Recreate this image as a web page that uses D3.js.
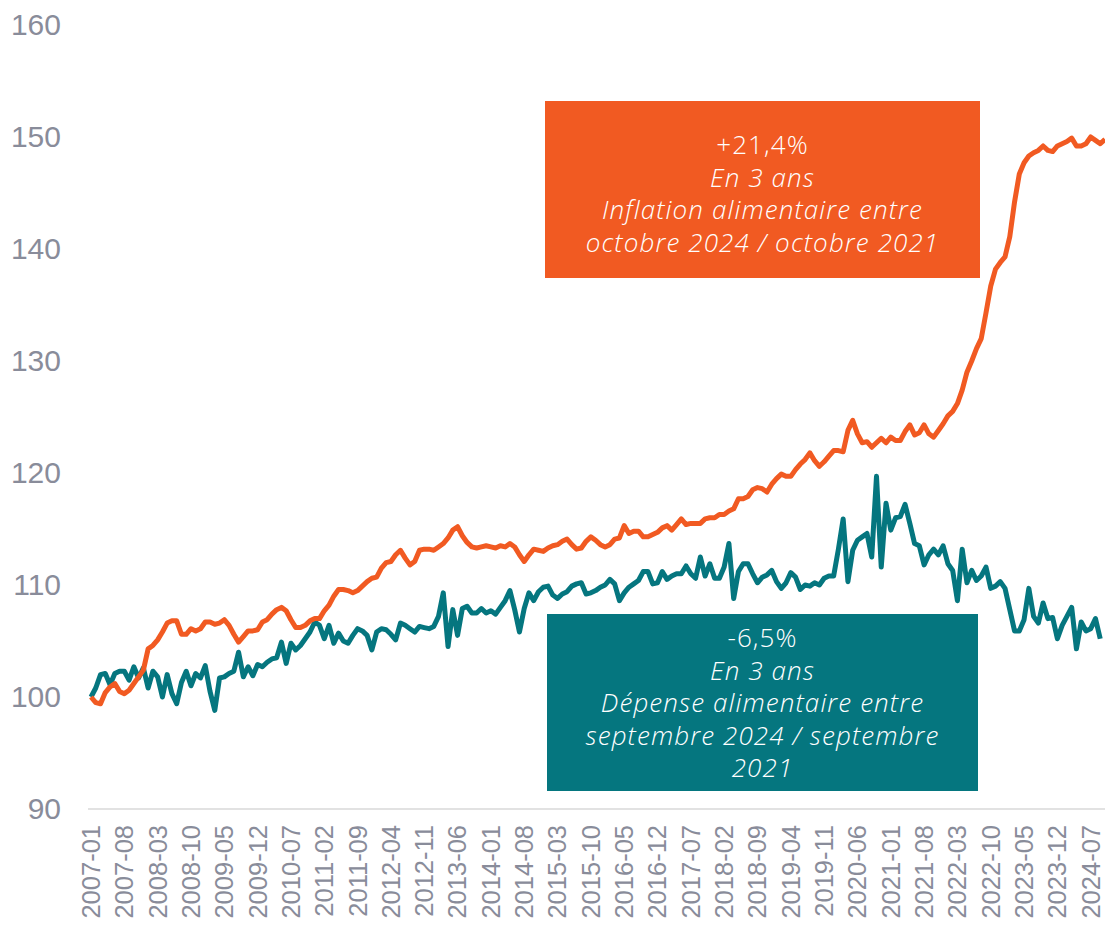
<!DOCTYPE html>
<html>
<head>
<meta charset="utf-8">
<script src="https://cdn.jsdelivr.net/npm/d3@7"></script>
<style>
  body { margin: 0; background: #fff; }
  svg { display: block; }
</style>
</head>
<body>
<div id="viz"></div>
<script>
// monthly index, base 100 = 2007-01
const startYear = 2007;
const inflation = [
  100.0, 99.5, 99.4, 100.4, 100.9, 101.2, 100.5, 100.3, 100.6, 101.2, 101.8, 102.4,
  104.3, 104.6, 105.1, 105.8, 106.6, 106.8, 106.8, 105.6, 105.6, 106.1, 105.9, 106.1,
  106.7, 106.7, 106.5, 106.6, 106.9, 106.4, 105.6, 104.9, 105.4, 105.9, 105.9, 106.0,
  106.7, 106.9, 107.4, 107.8, 108.0, 107.7, 106.9, 106.2, 106.2, 106.4, 106.8, 107.0,
  107.0, 107.7, 108.2, 109.0, 109.6, 109.6, 109.5, 109.3, 109.5, 109.9, 110.3, 110.6,
  110.7, 111.5, 112.0, 112.1, 112.7, 113.1, 112.4, 111.8, 112.1, 113.1, 113.2, 113.2,
  113.1, 113.4, 113.7, 114.2, 114.9, 115.2, 114.4, 113.8, 113.4, 113.3, 113.4, 113.5,
  113.4, 113.3, 113.5, 113.4, 113.7, 113.4, 112.7, 112.1, 112.7, 113.2, 113.1, 113.0,
  113.3, 113.5, 113.6, 113.9, 114.1, 113.6, 113.2, 113.3, 113.9, 114.3, 114.0, 113.6,
  113.4, 113.6, 114.1, 114.2, 115.3, 114.6, 114.8, 114.8, 114.3, 114.3, 114.5, 114.7,
  115.1, 115.3, 114.9, 115.4, 115.9, 115.4, 115.5, 115.5, 115.5, 115.9, 116.0, 116.0,
  116.3, 116.3, 116.6, 116.8, 117.7, 117.7, 117.9, 118.5, 118.7, 118.6, 118.3, 119.0,
  119.5, 119.9, 119.7, 119.7, 120.3, 120.8, 121.2, 121.8, 121.1, 120.6, 121.0, 121.5,
  122.0, 122.0, 121.9, 123.8, 124.7, 123.5, 122.7, 122.8, 122.3, 122.7, 123.1, 122.7,
  123.2, 122.9, 122.9, 123.7, 124.3, 123.4, 123.6, 124.3, 123.5, 123.2, 123.8, 124.4,
  125.1, 125.5, 126.2, 127.4, 129.0, 130.0, 131.1, 132.0, 134.3, 136.7, 138.2, 138.8,
  139.3, 141.1, 144.2, 146.7, 147.7, 148.3, 148.6, 148.8, 149.2, 148.8, 148.7, 149.2,
  149.4, 149.6, 149.9, 149.2, 149.2, 149.4, 150.0, 149.7, 149.4, 149.8
];
const depense = [
  100.0, 100.8, 102.0, 102.1, 101.1, 102.1, 102.3, 102.3, 101.5, 102.7, 101.7, 102.6,
  100.8, 102.3, 101.8, 100.0, 102.0, 100.3, 99.4, 101.3, 102.3, 101.0, 102.1, 101.7,
  102.8, 100.5, 98.8, 101.7, 101.8, 102.1, 102.3, 104.0, 101.8, 102.7, 101.9, 102.9,
  102.7, 103.1, 103.4, 103.5, 104.9, 103.0, 104.8, 104.2, 104.6, 105.2, 105.8, 106.7,
  106.4, 105.2, 106.4, 104.8, 105.7, 105.0, 104.8, 105.5, 106.1, 105.9, 105.5, 104.2,
  105.8, 106.1, 106.0, 105.6, 105.1, 106.6, 106.4, 106.1, 105.8, 106.3, 106.2, 106.1,
  106.3, 107.2, 109.3, 104.5, 107.8, 105.5, 107.9, 108.1, 107.5, 107.5, 107.9, 107.5,
  107.7, 107.4, 108.0, 108.6, 109.5, 107.8, 105.8, 107.9, 109.3, 108.6, 109.4, 109.8,
  109.9, 109.1, 108.8, 109.2, 109.4, 109.9, 110.1, 110.2, 109.2, 109.3, 109.5, 109.8,
  110.0, 110.5, 110.1, 108.6, 109.3, 109.8, 110.1, 110.4, 111.2, 111.2, 110.1, 110.2,
  111.2, 110.5, 110.8, 111.0, 111.0, 111.7, 111.0, 110.6, 112.5, 110.8, 111.9, 110.6,
  110.6, 111.6, 113.7, 108.8, 111.2, 111.9, 111.9, 111.0, 110.2, 110.7, 110.9, 111.3,
  110.3, 109.7, 110.2, 111.1, 110.7, 109.6, 110.0, 109.9, 110.2, 110.0, 110.6, 110.8,
  110.8, 113.2, 115.9, 110.3, 113.1, 114.0, 114.3, 114.6, 112.5, 119.7, 111.6, 117.3,
  114.9, 116.0, 116.1, 117.2, 115.5, 113.7, 113.5, 111.8, 112.7, 113.2, 112.7, 113.5,
  111.9, 111.3, 108.6, 113.2, 110.2, 111.3, 110.4, 110.8, 111.6, 109.7, 109.9, 110.3,
  109.7, 107.8, 105.9, 105.9, 106.9, 109.7, 107.2, 106.6, 108.4, 107.0, 107.1, 105.2,
  106.4, 107.2, 108.0, 104.3, 106.7, 105.9, 106.1, 107.0, 105.2
];
const yTicks = [90, 100, 110, 120, 130, 140, 150, 160];
const xTickLabels = [
  "2007-01", "2007-08", "2008-03", "2008-10", "2009-05", "2009-12", "2010-07", "2011-02",
  "2011-09", "2012-04", "2012-11", "2013-06", "2014-01", "2014-08", "2015-03", "2015-10",
  "2016-05", "2016-12", "2017-07", "2018-02", "2018-09", "2019-04", "2019-11", "2020-06",
  "2021-01", "2021-08", "2022-03", "2022-10", "2023-05", "2023-12", "2024-07"
];
const boxInflation = ["+21,4%", "En 3 ans", "Inflation alimentaire entre", "octobre 2024 / octobre 2021"];
const boxDepense = ["-6,5%", "En 3 ans", "Dépense alimentaire entre", "septembre 2024 / septembre", "2021"];

const orange = "#f15a22";
const teal = "#05767f";
const grey = "#898c9a";

const width = 1105, height = 930;

const months = inflation.map((d, i) => {
  const y = startYear + Math.floor(i / 12);
  const m = (i % 12) + 1;
  return `${y}-${String(m).padStart(2, "0")}`;
});

const svg = d3.select("#viz").append("svg")
  .attr("width", width)
  .attr("height", height);

const x = d3.scalePoint()
  .domain(months)
  .range([91, 1105]);

const y = d3.scaleLinear()
  .domain([90, 160])
  .range([809, 25]);

// y labels (no grid, no axis line)
const yAxis = svg.append("g")
  .attr("transform", "translate(61,0)")
  .call(d3.axisLeft(y).tickValues(yTicks).tickSize(0).tickPadding(0));
yAxis.select(".domain").remove();
yAxis.selectAll("text")
  .attr("fill", grey)
  .attr("font-family", "Liberation Sans, Arial, sans-serif")
  .attr("font-size", "30px");

// x axis
const xAxis = svg.append("g")
  .attr("transform", "translate(0,809)")
  .call(d3.axisBottom(x).tickValues(xTickLabels).tickSize(0));
xAxis.select(".domain").remove();
xAxis.selectAll("text")
  .attr("fill", grey)
  .attr("font-family", "Liberation Sans, Arial, sans-serif")
  .attr("font-size", "25.5px")
  .attr("text-anchor", "end")
  .attr("transform", "rotate(-90)")
  .attr("x", -16)
  .attr("y", 0)
  .attr("dy", "0.33em");

svg.append("line")
  .attr("x1", 88).attr("x2", 1105)
  .attr("y1", 809).attr("y2", 809)
  .attr("stroke", "#d9d9d9")
  .attr("stroke-width", 1.5);

const line = d3.line()
  .x((d, i) => x(months[i]))
  .y(d => y(d));

svg.append("path")
  .datum(depense)
  .attr("fill", "none")
  .attr("stroke", teal)
  .attr("stroke-width", 5)
  .attr("stroke-linejoin", "round")
  .attr("d", line);

svg.append("path")
  .datum(inflation)
  .attr("fill", "none")
  .attr("stroke", orange)
  .attr("stroke-width", 5)
  .attr("stroke-linejoin", "round")
  .attr("d", line);

// annotation boxes
function drawBox(lines, color, bx, by, bw, bh, firstY) {
  svg.append("rect")
    .attr("x", bx).attr("y", by)
    .attr("width", bw).attr("height", bh)
    .attr("fill", color);
  const t = svg.append("text")
    .attr("text-anchor", "middle")
    .attr("fill", "#fff")
    .attr("font-family", "Open Sans, sans-serif")
    .attr("font-weight", 300)
    .attr("font-size", "26px")
    .attr("letter-spacing", "1.1px");
  lines.forEach((l, i) => {
    t.append("tspan")
      .attr("x", bx + bw / 2)
      .attr("y", firstY + i * 32.5)
      .attr("font-style", i === 0 ? "normal" : "italic")
      .text(l);
  });
}

drawBox(boxInflation, orange, 545, 101, 435, 177, 154);
drawBox(boxDepense, teal, 547, 614, 431, 177, 647);
</script>
</body>
</html>
